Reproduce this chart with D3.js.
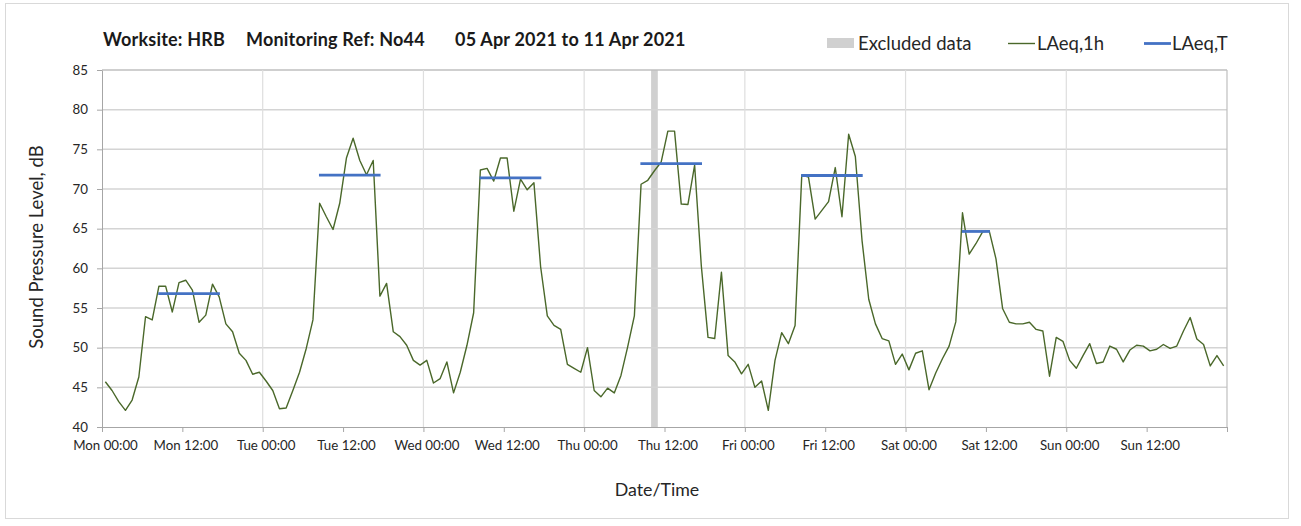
<!DOCTYPE html>
<html>
<head>
<meta charset="utf-8">
<script src="https://cdn.jsdelivr.net/npm/d3@7"></script>
<style>
  html, body { margin: 0; padding: 0; background: #ffffff; }
  svg { display: block; font-family: Lato, "Open Sans", sans-serif; }
</style>
</head>
<body>
<svg id="chart" width="1301" height="526"></svg>
<script>
// ---------------- DATA ----------------
// Hourly LAeq,1h values (dB), one array per day, hours 00..23
const monday    = [45.7, 44.6, 43.2, 42.1, 43.4, 46.3, 53.9, 53.5, 57.75, 57.75, 54.5, 58.2, 58.5, 57.25, 53.2, 54.1, 58.0, 56.4, 53.0, 52.0, 49.3, 48.4, 46.65, 46.9];
const tuesday   = [45.8, 44.6, 42.3, 42.4, 44.6, 46.9, 49.9, 53.5, 68.2, 66.5, 64.9, 68.2, 73.9, 76.4, 73.6, 71.8, 73.6, 56.5, 58.1, 52.0, 51.4, 50.3, 48.4, 47.8];
const wednesday = [48.4, 45.55, 46.1, 48.2, 44.3, 46.9, 50.3, 54.4, 72.4, 72.6, 71.0, 73.9, 73.9, 67.2, 71.25, 69.9, 70.8, 60.2, 54.0, 52.8, 52.3, 47.9, 47.4, 46.9];
const thursday  = [50.0, 44.6, 43.8, 44.9, 44.3, 46.5, 50.1, 54.0, 70.6, 71.1, 72.3, 73.4, 77.3, 77.3, 68.1, 68.05, 73.0, 60.3, 51.3, 51.15, 59.5, 49.0, 48.2, 46.7];
const friday    = [47.9, 45.0, 45.8, 42.1, 48.4, 51.9, 50.5, 52.8, 71.75, 71.5, 66.2, 67.3, 68.4, 72.7, 66.5, 76.9, 74.1, 63.5, 56.1, 53.0, 51.15, 50.85, 47.9, 49.2];
const saturday  = [47.2, 49.3, 49.6, 44.7, 46.8, 48.6, 50.2, 53.25, 67.0, 61.8, 63.1, 64.6, 64.7, 61.2, 54.9, 53.2, 53.0, 53.0, 53.2, 52.3, 52.1, 46.4, 51.3, 50.8];
const sunday    = [48.4, 47.4, 49.0, 50.5, 48.0, 48.2, 50.2, 49.8, 48.2, 49.7, 50.3, 50.2, 49.6, 49.8, 50.4, 49.9, 50.2, 52.1, 53.8, 51.1, 50.4, 47.7, 49.0, 47.7];

// LAeq,T periods: day index (0 = Mon), start hour, end hour, level (dB)
const periodDay   = [0, 1, 2, 3, 4, 5];
const periodStart = [8, 8, 8, 8, 8, 8];
const periodEnd   = [18, 18, 18, 18, 18, 13];
const periodLevel = [56.8, 71.75, 71.4, 73.2, 71.7, 64.65];

// Excluded data window (hours from Mon 00:00)
const excludedStart = [82];
const excludedEnd   = [83];

// Axis ticks
const xTickHours  = [0, 12, 24, 36, 48, 60, 72, 84, 96, 108, 120, 132, 144, 156, 168];
const xTickLabels = ["Mon 00:00", "Mon 12:00", "Tue 00:00", "Tue 12:00", "Wed 00:00", "Wed 12:00",
                     "Thu 00:00", "Thu 12:00", "Fri 00:00", "Fri 12:00", "Sat 00:00", "Sat 12:00",
                     "Sun 00:00", "Sun 12:00", ""];
const yTicks = [40, 45, 50, 55, 60, 65, 70, 75, 80, 85];

const titleParts = ["Worksite: HRB", "Monitoring Ref: No44", "05 Apr 2021 to 11 Apr 2021"];
const legendLabels = ["Excluded data", "LAeq,1h", "LAeq,T"];

// ---------------- LAYOUT ----------------
const svg = d3.select("#chart");
const plot = { left: 102, right: 1227, top: 70, bottom: 427 };
const colGreen = "#4a682a", colBlue = "#4472c4", colExcl = "#d0d0d0";
const font = "Lato, 'Open Sans', sans-serif";

const x = d3.scaleLinear().domain([0, 168]).range([plot.left, plot.right]);
const y = d3.scaleLinear().domain([40, 85]).range([plot.bottom, plot.top]);

const days = [monday, tuesday, wednesday, thursday, friday, saturday, sunday];
const series = [];
days.forEach((arr, d) => arr.forEach((v, h) => series.push({ t: d * 24 + h + 0.5, v })));

// outer chart border
svg.append("rect").attr("x", 5.5).attr("y", 3.5).attr("width", 1283).attr("height", 515)
  .attr("fill", "#fff").attr("stroke", "#d9d9d9").attr("stroke-width", 1);

// excluded band
svg.append("g").selectAll("rect").data(excludedStart).join("rect")
  .attr("x", (d) => x(d)).attr("y", plot.top)
  .attr("width", (d, i) => x(excludedEnd[i]) - x(d)).attr("height", plot.bottom - plot.top)
  .attr("fill", colExcl);

// horizontal gridlines
svg.append("g").selectAll("line").data(yTicks.filter(v => v > 40)).join("line")
  .attr("x1", plot.left).attr("x2", plot.right)
  .attr("y1", d => y(d)).attr("y2", d => y(d))
  .attr("stroke", d => d === 85 ? "#bfbfbf" : "#d4d4d4").attr("stroke-width", 1.5);

// vertical gridlines at midnight
svg.append("g").selectAll("line").data(xTickHours.filter(h => h % 24 === 0 && h > 0)).join("line")
  .attr("x1", d => x(d)).attr("x2", d => x(d))
  .attr("y1", plot.top).attr("y2", plot.bottom)
  .attr("stroke", d => d === 168 ? "#bfbfbf" : "#dedede").attr("stroke-width", 1.2);

// axes
const xAxis = d3.axisBottom(x).tickValues(xTickHours)
  .tickFormat((d, i) => xTickLabels[i]).tickSize(5).tickSizeOuter(0);
const gx = svg.append("g").attr("transform", `translate(0,${plot.bottom})`).call(xAxis);
gx.select(".domain").attr("stroke", "#a6a6a6");
gx.selectAll(".tick line").attr("stroke", "#a6a6a6");
gx.selectAll(".tick text").attr("fill", "#262626").attr("font-size", 13.3)
  .attr("font-family", font).attr("dy", "1.15em").attr("dx", 3);

const yAxis = d3.axisLeft(y).tickValues(yTicks).tickSize(5).tickSizeOuter(0).tickPadding(9);
const gy = svg.append("g").attr("transform", `translate(${plot.left},0)`).call(yAxis);
gy.select(".domain").attr("stroke", "#a6a6a6");
gy.selectAll(".tick line").attr("stroke", "#a6a6a6");
gy.selectAll(".tick text").attr("fill", "#262626").attr("font-size", 13.3)
  .attr("font-family", font);

// LAeq,1h line
svg.append("path").datum(series)
  .attr("fill", "none").attr("stroke", colGreen).attr("stroke-width", 1.4)
  .attr("stroke-linejoin", "round")
  .attr("d", d3.line().x(d => x(d.t)).y(d => y(d.v)));

// LAeq,T lines
svg.append("g").selectAll("line").data(periodLevel).join("line")
  .attr("x1", (d, i) => x(periodDay[i] * 24 + periodStart[i] + 0.4))
  .attr("x2", (d, i) => x(periodDay[i] * 24 + periodEnd[i] - 0.4))
  .attr("y1", d => y(d)).attr("y2", d => y(d))
  .attr("stroke", colBlue).attr("stroke-width", 2.8);

// title
const titleX = [103, 246, 455];
svg.append("g").selectAll("text").data(titleParts).join("text")
  .attr("x", (d, i) => titleX[i]).attr("y", 46)
  .attr("font-size", 18).attr("font-weight", "bold").attr("fill", "#1a1a1a")
  .attr("letter-spacing", 0.2)
  .attr("font-family", font)
  .text(d => d);

// legend
const lg = svg.append("g").attr("font-size", 18.5).attr("fill", "#262626").attr("font-family", font);
lg.append("rect").attr("x", 827).attr("y", 38).attr("width", 27).attr("height", 10).attr("fill", colExcl);
lg.append("text").attr("x", 858).attr("y", 50).text(legendLabels[0]);
lg.append("line").attr("x1", 1008).attr("x2", 1035).attr("y1", 43.5).attr("y2", 43.5)
  .attr("stroke", colGreen).attr("stroke-width", 1.4);
lg.append("text").attr("x", 1037).attr("y", 50).text(legendLabels[1]);
lg.append("line").attr("x1", 1144).attr("x2", 1171).attr("y1", 43.5).attr("y2", 43.5)
  .attr("stroke", colBlue).attr("stroke-width", 2.8);
lg.append("text").attr("x", 1172).attr("y", 50).text(legendLabels[2]);

// axis titles
svg.append("text").attr("x", 657).attr("y", 496).attr("text-anchor", "middle")
  .attr("font-size", 17.8).attr("fill", "#262626").attr("font-family", font).text("Date/Time");
svg.append("text").attr("transform", "translate(43,247) rotate(-90)").attr("text-anchor", "middle")
  .attr("font-size", 18.5).attr("fill", "#262626").attr("font-family", font).text("Sound Pressure Level, dB");
</script>
</body>
</html>
